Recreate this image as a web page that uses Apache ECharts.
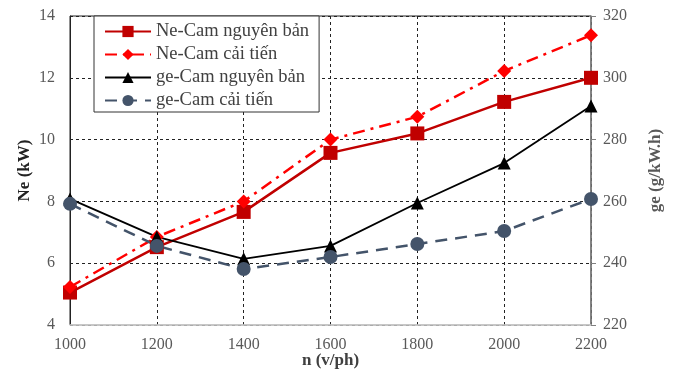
<!DOCTYPE html>
<html><head><meta charset="utf-8">
<script src="https://cdn.jsdelivr.net/npm/echarts@6/dist/echarts.min.js"></script>
<style>html,body{margin:0;padding:0;background:#fff}#c{width:675px;height:372px}</style>
</head><body><div id="c"></div>
<script>
const speeds = [1000, 1200, 1400, 1600, 1800, 2000, 2200];
const neOriginal = [5.05, 6.52, 7.66, 9.57, 10.2, 11.22, 12.0];
const neImproved = [5.23, 6.85, 8.0, 10.0, 10.74, 12.22, 13.38];
const geOriginal = [260.8, 248.5, 241.4, 245.6, 259.5, 272.4, 290.9];
const geImproved = [259.2, 245.6, 238.1, 242.0, 246.2, 250.4, 260.8];
const seriesNames = ['Ne-Cam nguyên bản', 'Ne-Cam cải tiến', 'ge-Cam nguyên bản', 'ge-Cam cải tiến'];

const pair = arr => speeds.map((x, i) => [x, arr[i]]);
const font = 'Liberation Serif';
const chart = echarts.init(document.getElementById('c'));
chart.setOption({
  animation: false,
  grid: {left: 70, right: 84, top: 16, bottom: 47, show: true, borderColor: '#222', borderWidth: 1, outerBoundsMode: 'none', containLabel: false},
  legend: {
    left: 94, top: 16, orient: 'vertical', itemWidth: 46, itemHeight: 14, itemGap: 4,
    padding: [6, 10, 2, 10],
    borderColor: '#333', borderWidth: 1, backgroundColor: '#fff',
    textStyle: {fontFamily: font, fontSize: 18.5, color: '#404040'},
    data: seriesNames
  },
  xAxis: {
    type: 'value', min: 1000, max: 2200, interval: 200,
    name: 'n (v/ph)', nameLocation: 'middle', nameGap: 27, nameMoveOverlap: false,
    nameTextStyle: {fontFamily: font, fontSize: 17, fontWeight: 'bold', color: '#404040'},
    axisLine: {show: true, lineStyle: {color: '#d9d9d9', width: 1.5}},
    axisTick: {show: false},
    axisLabel: {fontFamily: font, fontSize: 16, color: '#595959', margin: 12, formatter: v => String(v)},
    splitLine: {show: true, lineStyle: {type: [3, 3], color: '#222', width: 1}}
  },
  yAxis: [{
    type: 'value', min: 4, max: 14, interval: 2,
    name: 'Ne (kW)', nameLocation: 'middle', nameGap: 37, nameRotate: 90, nameMoveOverlap: false,
    nameTextStyle: {fontFamily: font, fontSize: 17, fontWeight: 'bold', color: '#222'},
    axisLine: {show: true, lineStyle: {color: '#222', width: 1}},
    axisTick: {show: false},
    axisLabel: {fontFamily: font, fontSize: 16, color: '#595959', margin: 15},
    splitLine: {show: true, lineStyle: {type: [3, 3], color: '#222', width: 1}}
  }, {
    type: 'value', min: 220, max: 320, interval: 20, position: 'right',
    name: 'ge (g/kW.h)', nameLocation: 'middle', nameGap: 56, nameRotate: 90, nameMoveOverlap: false,
    nameTextStyle: {fontFamily: font, fontSize: 17, fontWeight: 'bold', color: '#595959'},
    axisLine: {show: true, lineStyle: {color: '#808080', width: 1.5}},
    axisTick: {show: true, length: 5, lineStyle: {color: '#808080'}},
    axisLabel: {fontFamily: font, fontSize: 16, color: '#595959', margin: 12},
    splitLine: {show: false}
  }],
  series: [{
    name: seriesNames[0], type: 'line', yAxisIndex: 0, data: pair(neOriginal),
    symbol: 'rect', symbolSize: 14,
    lineStyle: {color: '#c00000', width: 2.5}, itemStyle: {color: '#c00000'}
  }, {
    name: seriesNames[1], type: 'line', yAxisIndex: 0, data: pair(neImproved),
    symbol: 'diamond', symbolSize: 14,
    lineStyle: {color: '#ff0000', width: 2.5, type: [12, 6, 3, 6]}, itemStyle: {color: '#ff0000'}
  }, {
    name: seriesNames[2], type: 'line', yAxisIndex: 1, data: pair(geOriginal),
    symbol: 'triangle', symbolSize: 13,
    lineStyle: {color: '#000', width: 1.8}, itemStyle: {color: '#000'}
  }, {
    name: seriesNames[3], type: 'line', yAxisIndex: 1, data: pair(geImproved),
    symbol: 'circle', symbolSize: 14,
    lineStyle: {color: '#44546a', width: 2.5, type: [12, 8]}, itemStyle: {color: '#44546a'}
  }]
});
</script></body></html>
